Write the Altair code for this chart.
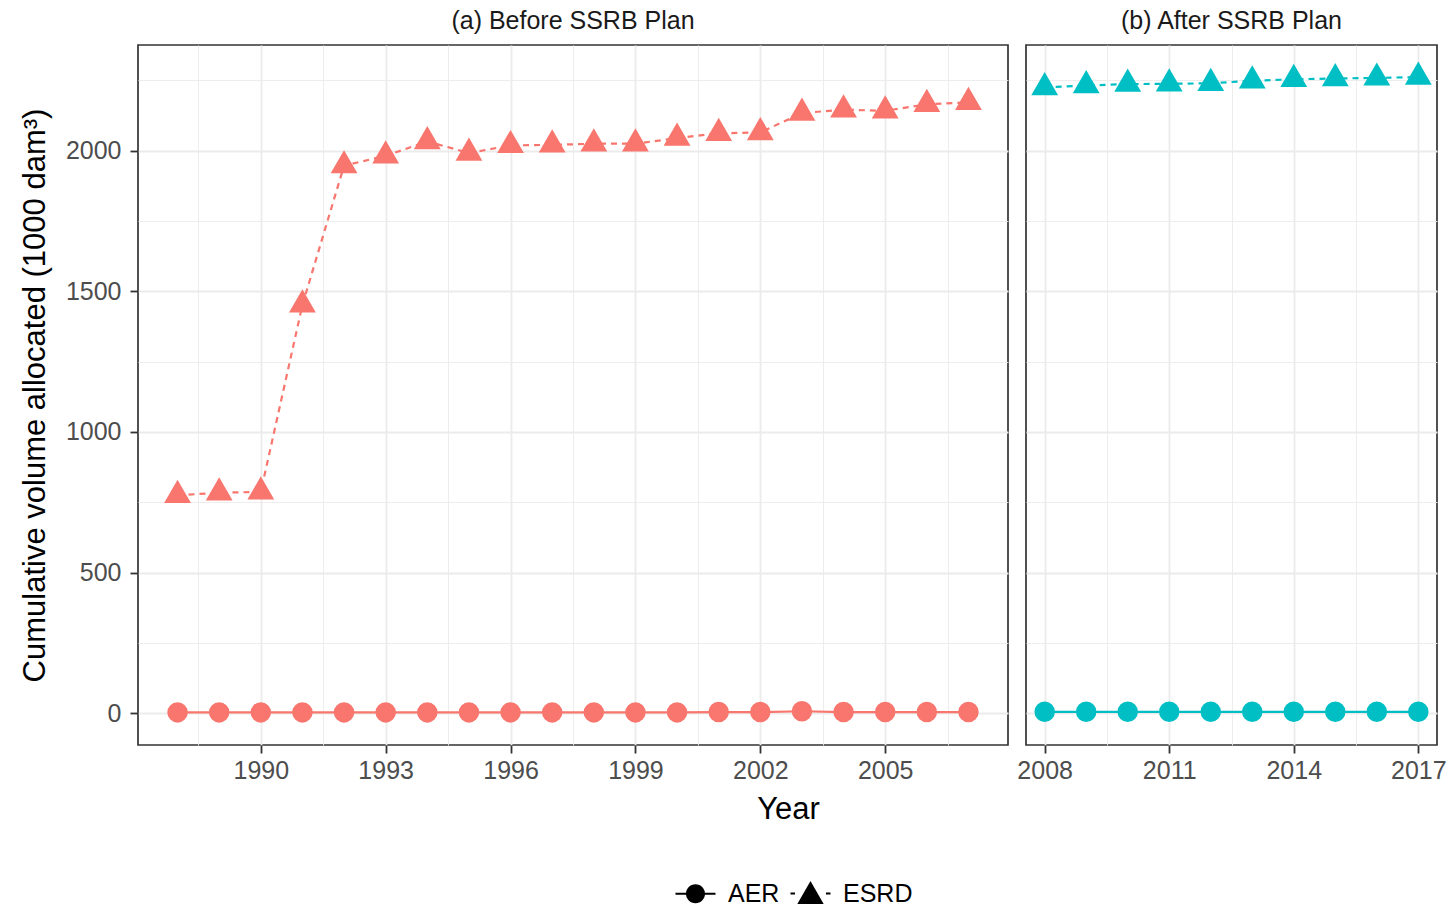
import altair as alt
import pandas as pd

FONT = "Liberation Sans"

# ---- data ----
years_before = [1988, 1989, 1990, 1991, 1992, 1993, 1994, 1995, 1996, 1997,
                1998, 1999, 2000, 2001, 2002, 2003, 2004, 2005, 2006, 2007]
esrd_before = [775, 784, 787, 1452, 1947, 1982, 2033, 1992, 2019, 2021,
               2025, 2025, 2045, 2062, 2065, 2134, 2146, 2142, 2165, 2172]
aer_before = [3, 3, 3, 3, 3, 3, 3, 3, 3, 3,
              3, 3, 3, 4, 4, 7, 4, 4, 4, 4]

years_after = [2008, 2009, 2010, 2011, 2012, 2013, 2014, 2015, 2016, 2017]
esrd_after = [2225, 2232, 2237, 2238, 2240, 2249, 2254, 2257, 2259, 2262]
aer_after = [5, 5, 5, 5, 5, 5, 5, 5, 5, 5]

series_names = ["AER", "ESRD"]
panel_titles = ["(a) Before SSRB Plan", "(b) After SSRB Plan"]
panel_colors = ["#F8766D", "#00BFC4"]

x_ticks_before = [1988.5, 1990, 1991.5, 1993, 1994.5, 1996, 1997.5, 1999,
                  2000.5, 2002, 2003.5, 2005, 2006.5]
x_ticks_after = [2008, 2009.5, 2011, 2012.5, 2014, 2015.5, 2017]
y_ticks = [0, 250, 500, 750, 1000, 1250, 1500, 1750, 2000, 2250]

y_domain = [-113, 2376]
x_domain_before = [1987.05, 2007.95]
x_domain_after = [2007.55, 2017.45]

y_title = "Cumulative volume allocated (1000 dam³)"
x_title = "Year"

# legend symbols: line (thin filled bars) + marker, unit-square SVG paths
legend_paths = [
    "M-2,-0.1H2V0.1H-2Z"
    "M0.95,0A0.95,0.95,0,1,1,-0.95,0A0.95,0.95,0,1,1,0.95,0Z",
    "M-2,-0.1H-1.55V0.1H-2Z"
    "M1.55,-0.1H2V0.1H1.55Z"
    "M0,-1.25L1.32,1.05L-1.32,1.05Z",
]


def long_df(years, aer, esrd):
    rows = []
    for yr, a, e in zip(years, aer, esrd):
        rows.append({"Year": yr, "series": series_names[0], "value": a})
        rows.append({"Year": yr, "series": series_names[1], "value": e})
    return pd.DataFrame(rows)


GRID = "#EBEBEB"
major_x = "datum.value % 1 == 0"
major_y = "datum.value % 500 == 0"


def x_axis(values, title=None, extra=None):
    kw = dict(
        values=values, format="d",
        labelExpr=f"{major_x} ? datum.label : ''",
        labelOverlap=False, labelFlush=False,
        labelFont=FONT, labelFontSize=25, labelColor="#4D4D4D", labelPadding=5,
        domain=False,
        tickColor="#333333", tickSize=8, tickWidth=1.8,
        tickOpacity={"condition": {"test": major_x, "value": 1}, "value": 0},
        gridColor=GRID,
        gridWidth={"condition": {"test": major_x, "value": 1.8}, "value": 0.9},
        title=title,
    )
    if extra:
        kw.update(extra)
    return alt.Axis(**kw)


def y_axis(show):
    kw = dict(
        values=y_ticks, format="d",
        labelOverlap=False, labelFlush=False,
        domain=False,
        gridColor=GRID,
        gridWidth={"condition": {"test": major_y, "value": 1.8}, "value": 0.9},
    )
    if show:
        kw.update(
            labelExpr=f"{major_y} ? datum.label : ''",
            labelFont=FONT, labelFontSize=25, labelColor="#4D4D4D", labelPadding=9,
            tickColor="#333333", tickSize=8, tickWidth=1.8,
            tickOpacity={"condition": {"test": major_y, "value": 1}, "value": 0},
            title=y_title, titleFont=FONT, titleFontSize=31, titleFontWeight="normal",
            titleColor="#000000", titlePadding=14,
        )
    else:
        kw.update(labels=False, ticks=False, title=None)
    return alt.Axis(**kw)


def panel(df, color, xdomain, xticks, title, width, show_y, with_legend):
    xa = x_axis(
        xticks,
        title=x_title if with_legend else None,
        extra=dict(titleFont=FONT, titleFontSize=31, titleFontWeight="normal",
                   titleColor="#000000", titleX=650, titlePadding=11)
        if with_legend else None,
    )
    X = alt.X("Year:Q", scale=alt.Scale(domain=xdomain, nice=False, zero=False), axis=xa)
    Y = alt.Y("value:Q", scale=alt.Scale(domain=y_domain, nice=False, zero=False),
              axis=y_axis(show_y))
    base = alt.Chart(df).encode(x=X, y=Y)
    aer = base.transform_filter(alt.datum.series == series_names[0])
    esrd = base.transform_filter(alt.datum.series == series_names[1])
    layers = [
        aer.mark_line(color=color, strokeWidth=2.2),
        esrd.mark_line(color=color, strokeWidth=2.2, strokeDash=[6, 5]),
        aer.mark_point(shape="circle", filled=True, opacity=1, color=color, size=420),
        esrd.mark_point(shape="triangle-up", filled=True, opacity=1, color=color,
                        size=720, yOffset=-3.9),
    ]
    if with_legend:
        leg = base.transform_filter("false").mark_point(
            filled=True, opacity=1, color="black", size=400
        ).encode(
            shape=alt.Shape(
                "series:N",
                scale=alt.Scale(domain=series_names, range=legend_paths),
                legend=alt.Legend(
                    title=None, orient="none", direction="horizontal",
                    legendX=545, legendY=836, padding=0,
                    symbolSize=400,
                    symbolFillColor="black",
                    labelFont=FONT, labelFontSize=25, labelColor="#000000",
                    labelOffset=20, columnPadding=7,
                ),
            )
        )
        layers.append(leg)
    return alt.layer(*layers).properties(
        width=width, height=700,
        title=alt.TitleParams(title, font=FONT, fontSize=25, fontWeight="normal",
                              color="#1A1A1A", anchor="middle", offset=11),
    )


left = panel(long_df(years_before, aer_before, esrd_before), panel_colors[0],
             x_domain_before, x_ticks_before, panel_titles[0], 870, True, True)
right = panel(long_df(years_after, aer_after, esrd_after), panel_colors[1],
              x_domain_after, x_ticks_after, panel_titles[1], 411, False, False)

chart = alt.hconcat(
    left, right, spacing=18, bounds="flush",
    padding={"left": 18, "top": 8, "right": 0, "bottom": 0},
    background="white",
).configure_view(stroke="#333333", strokeWidth=1.7)

chart.save("out.html", embed_options={"renderer": "svg", "actions": False})
